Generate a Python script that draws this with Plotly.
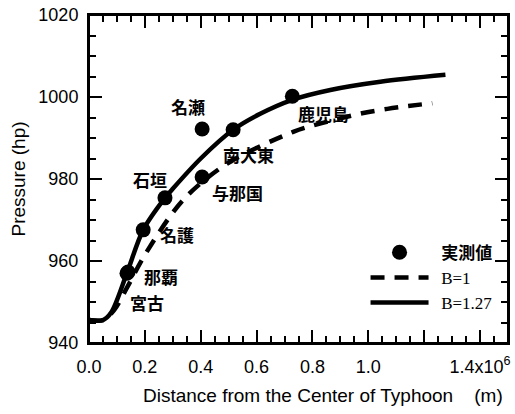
import plotly.graph_objects as go

# ---- data ----
dist_b127 = [0.0, 0.05, 0.08, 0.136, 0.194, 0.272, 0.297, 0.40, 0.516, 0.613, 0.728, 0.864, 1.043, 1.276]
pres_b127 = [945.6, 945.6, 947.5, 957.1, 967.6, 975.4, 977.4, 985.0, 992.0, 995.9, 999.3, 1001.7, 1003.7, 1005.4]

dist_b1 = [0.0, 0.05, 0.09, 0.136, 0.200, 0.337, 0.498, 0.731, 0.81, 0.982, 1.068, 1.143, 1.229]
pres_b1 = [945.6, 945.6, 948.0, 953.5, 961.5, 974.9, 983.9, 991.5, 993.2, 996.1, 997.1, 997.8, 998.5]

obs_names = ["宮古", "那覇", "名護", "石垣", "与那国", "名瀬", "南大東", "鹿児島"]
obs_dist = [0.136, 0.14, 0.194, 0.272, 0.405, 0.405, 0.516, 0.728]
obs_pres = [957.0, 957.3, 967.6, 975.4, 980.5, 992.2, 992.0, 1000.2]

x_tickvals = [0.0, 0.2, 0.4, 0.6, 0.8, 1.0, 1.2, 1.4]
x_ticktext = ["0.0", "0.2", "0.4", "0.6", "0.8", "1.0", "\u00a0", "1.4x10<sup>6</sup>"]

x_range = [0, 1.5]
y_range = [940, 1020]

# label offsets (pixels, styling only)
label_dx = [20, 33, 34, -15, 35, -14, 15, 31]
label_dy = [-29, -4, -5, 18, -16, 22, -25, -17]

fig = go.Figure()
fig.add_trace(go.Scatter(
    x=obs_dist, y=obs_pres, mode="markers", name="\u00a0\u00a0<b>実測値</b>",
    marker=dict(size=15, color="black"),
))
fig.add_trace(go.Scatter(
    x=dist_b1, y=pres_b1, mode="lines",
    name="\u00a0\u00a0<span style='font-family:Liberation Serif'>B=1</span>",
    line=dict(color="black", width=4.5, dash="14px,10px", shape="spline", smoothing=0.9),
))
fig.add_trace(go.Scatter(
    x=dist_b127, y=pres_b127, mode="lines",
    name="\u00a0\u00a0<span style='font-family:Liberation Serif'>B=1.27</span>",
    line=dict(color="black", width=4.5, shape="spline", smoothing=0.9),
))
# empty trace so the top/right tick frame axes get drawn
fig.add_trace(go.Scatter(
    x=[None], y=[None], xaxis="x2", yaxis="y2", mode="lines",
    showlegend=False, hoverinfo="skip",
))

for n, xv, yv, dx, dy in zip(obs_names, obs_dist, obs_pres, label_dx, label_dy):
    fig.add_annotation(
        x=xv, y=yv, text=n, showarrow=False, xshift=dx, yshift=dy,
        font=dict(family="Noto Sans CJK JP", size=17, color="black", weight="bold"),
    )

fig.add_annotation(
    xref="paper", yref="paper", x=0.558, y=-0.159, yanchor="middle",
    text="Distance from the Center of Typhoon\u00a0\u00a0\u00a0\u00a0(m)", showarrow=False,
    font=dict(family="Liberation Sans", size=19, color="black"),
)

# plot frame
fig.add_shape(type="rect", xref="paper", yref="paper", x0=0, y0=0, x1=1, y1=1,
              line=dict(color="black", width=2), fillcolor="rgba(0,0,0,0)", layer="above")

tick_common = dict(
    showline=True, linecolor="black", linewidth=2,
    ticks="inside", tickcolor="black", tickwidth=2, ticklen=13,
    showgrid=False, zeroline=False, automargin=False,
    tickfont=dict(family="Liberation Sans", size=18, color="black"),
)
x_minor = dict(dtick=0.05, ticks="inside", ticklen=7, tickcolor="black", tickwidth=2)
y_minor = dict(dtick=5, ticks="inside", ticklen=7, tickcolor="black", tickwidth=2)

fig.update_layout(
    width=515, height=414,
    margin=dict(l=89, r=7, t=15, b=71),
    paper_bgcolor="white", plot_bgcolor="white",
    showlegend=True,
    legend=dict(
        x=0.66, y=0.33, xanchor="left", yanchor="top",
        bgcolor="rgba(0,0,0,0)", itemwidth=58, tracegroupgap=0,
        font=dict(family="Noto Sans CJK JP", size=17, color="black"),
    ),
    xaxis=dict(range=x_range, tickvals=x_tickvals, ticktext=x_ticktext,
               minor=x_minor, ticklabelstandoff=6, **tick_common),
    yaxis=dict(range=y_range, dtick=20, minor=y_minor, ticklabelstandoff=5,
               title=dict(text="Pressure (hp)", standoff=8,
                          font=dict(family="Liberation Sans", size=19, color="black")),
               **tick_common),
    # mirrored tick frames on top and right
    xaxis2=dict(range=x_range, tickvals=x_tickvals, minor=x_minor, overlaying="x",
                side="top", showticklabels=False, **tick_common),
    yaxis2=dict(range=y_range, dtick=20, minor=y_minor, overlaying="y",
                side="right", showticklabels=False, **tick_common),
)

fig.write_html("out.html", config={"displayModeBar": False},
               post_script="document.body.style.margin='0';")
